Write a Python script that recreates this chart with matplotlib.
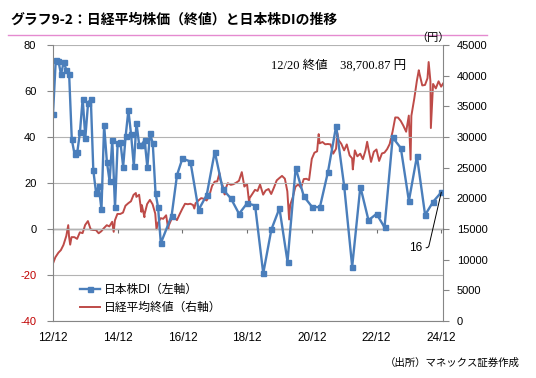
import numpy as np
import pandas as pd
import matplotlib
matplotlib.use("Agg")
import matplotlib.pyplot as plt
import matplotlib.dates as mdates
from matplotlib.lines import Line2D

plt.rcParams['font.family'] = ['Liberation Sans', 'Noto Sans CJK JP', 'DejaVu Sans']

# --- data -------------------------------------------------------------------
# 日本株DI: monthly Dec 2012 - Apr 2016, then Aug/Oct 2016, then quarterly
di_monthly = [50, 73.3, 73, 67.2, 72.6, 69.1, 67.4, 39, 32.5, 33.3, 42, 56.7,
              39.7, 54.8, 56.5, 25.5, 15.8, 18.7, 8.5, 45.2, 29.3, 20.7, 38.7,
              9.4, 37.5, 37.8, 27.1, 40.4, 51.6, 41.2, 27.4, 46.1, 36.5, 36.7,
              38.7, 26.8, 41.7, 37.2, 15.8, 9.4, -6.2]
di_mid_dates = ['2016-08-01', '2016-10-01']
di_mid = [5.8, 23.5]
di_quarterly = [30.7, 29.3, 8.3, 14.8, 33.6, 17.3, 13.3, 6.6, 11.2, 10.2, -19.3,
                -0.2, 9.0, -14.2, 26.6, 14.2, 9.7, 9.4, 24.9, 44.8, 18.5, -16.4,
                18.4, 3.8, 6.6, 0.7, 39.8, 35.2, 12.2, 31.7, 6.1, 11.9, 16.0]

di_dates = (list(pd.date_range('2012-12-01', periods=len(di_monthly), freq='MS'))
            + list(pd.to_datetime(di_mid_dates))
            + list(pd.date_range('2016-12-01', periods=len(di_quarterly), freq='3MS')))
di_values = di_monthly + di_mid + di_quarterly

# 日経平均終値 (month-end closes plus notable intra-month highs/lows)
nk_dates = [
    '2012-12-03', '2012-12-28', '2013-01-31', '2013-02-28', '2013-03-29', '2013-04-30',
    '2013-05-22', '2013-05-31', '2013-06-13', '2013-06-28', '2013-07-31', '2013-08-30',
    '2013-09-30', '2013-10-31', '2013-11-29', '2013-12-30', '2014-01-31', '2014-02-28',
    '2014-03-31', '2014-04-30', '2014-05-30', '2014-06-30', '2014-07-31', '2014-08-29',
    '2014-09-30', '2014-10-17', '2014-10-31', '2014-11-28', '2014-12-30', '2015-01-30',
    '2015-02-27', '2015-03-31', '2015-04-30', '2015-05-29', '2015-06-24', '2015-06-30',
    '2015-07-31', '2015-08-25', '2015-08-31', '2015-09-29', '2015-09-30', '2015-10-30',
    '2015-11-30', '2015-12-30', '2016-01-29', '2016-02-12', '2016-02-29', '2016-03-31',
    '2016-04-28', '2016-05-31', '2016-06-24', '2016-06-30', '2016-07-29', '2016-08-31',
    '2016-09-30', '2016-10-31', '2016-11-30', '2016-12-30', '2017-01-31', '2017-02-28',
    '2017-03-31', '2017-04-14', '2017-04-28', '2017-05-31', '2017-06-30', '2017-07-31',
    '2017-08-31', '2017-09-29', '2017-10-31', '2017-11-30', '2017-12-29', '2018-01-23',
    '2018-01-31', '2018-02-28', '2018-03-23', '2018-03-30', '2018-04-27', '2018-05-31',
    '2018-06-29', '2018-07-31', '2018-08-31', '2018-09-28', '2018-10-02', '2018-10-31',
    '2018-11-30', '2018-12-25', '2018-12-28', '2019-01-31', '2019-02-28', '2019-03-29',
    '2019-04-26', '2019-05-31', '2019-06-28', '2019-07-31', '2019-08-30', '2019-09-30',
    '2019-10-31', '2019-11-29', '2019-12-30', '2020-01-31', '2020-02-28', '2020-03-19',
    '2020-03-31', '2020-04-30', '2020-05-29', '2020-06-30', '2020-07-31', '2020-08-31',
    '2020-09-30', '2020-10-30', '2020-11-30', '2020-12-30', '2021-01-29', '2021-02-16',
    '2021-02-26', '2021-03-31', '2021-04-30', '2021-05-31', '2021-06-30', '2021-07-30',
    '2021-08-31', '2021-09-14', '2021-09-30', '2021-10-29', '2021-11-30', '2021-12-30',
    '2022-01-31', '2022-02-28', '2022-03-08', '2022-03-31', '2022-04-28', '2022-05-31',
    '2022-06-30', '2022-07-29', '2022-08-17', '2022-08-31', '2022-09-30', '2022-10-31',
    '2022-11-30', '2022-12-30', '2023-01-31', '2023-02-28', '2023-03-31', '2023-04-28',
    '2023-05-31', '2023-06-30', '2023-07-31', '2023-08-31', '2023-09-29', '2023-10-31',
    '2023-11-30', '2023-12-20', '2023-12-29', '2024-01-31', '2024-02-29', '2024-03-22',
    '2024-03-29', '2024-04-30', '2024-05-31', '2024-06-28', '2024-07-11', '2024-07-31',
    '2024-08-05', '2024-08-30', '2024-09-30', '2024-10-31', '2024-11-29', '2024-12-20']
nk_values = [
    9458, 10395, 11139, 11559, 12398, 13861,
    15627, 13775, 12445, 13677, 13668, 13389,
    14456, 14328, 15662, 16291, 14915, 14841,
    14828, 14304, 14632, 15162, 15621, 15425,
    16174, 14533, 16414, 17460, 17451, 17674,
    18798, 19207, 19520, 20563, 20868, 20236,
    20585, 17806, 18890, 16931, 17388, 19083,
    19747, 19034, 17518, 14953, 16027, 16759,
    16666, 17235, 14952, 15576, 16569, 16887,
    16450, 17425, 18308, 19114, 19041, 19119,
    18909, 18336, 19197, 19651, 20033, 19925,
    19646, 20356, 22012, 22725, 22765, 24124,
    23098, 22068, 20618, 21454, 22468, 22202,
    22305, 22554, 22865, 24120, 24271, 21920,
    22351, 19155, 20015, 20773, 21385, 21206,
    22259, 20601, 21276, 21522, 20704, 21756,
    22927, 23294, 23657, 23205, 21143, 16553,
    18917, 20194, 21878, 22288, 21710, 23140,
    23185, 22977, 26434, 27444, 27663, 30468,
    28966, 29179, 28813, 28860, 28792, 27284,
    28090, 30670, 29453, 28893, 27822, 28792,
    27002, 26527, 24718, 27821, 26848, 27280,
    26393, 27802, 29222, 28092, 25937, 27587,
    27969, 26095, 27327, 27446, 28041, 28856,
    30888, 33189, 33172, 32619, 31858, 30859,
    33487, 26300, 33464, 36287, 39166, 40888,
    40369, 38406, 38488, 39583, 42224, 39102,
    31458, 38648, 37920, 39081, 38208, 38701]
nk_dates = pd.to_datetime(nk_dates)

x_ticks = pd.to_datetime(['2012-12-01', '2014-12-01', '2016-12-01', '2018-12-01',
                          '2020-12-01', '2022-12-01', '2024-12-01'])
x_labels = ['12/12', '14/12', '16/12', '18/12', '20/12', '22/12', '24/12']
left_ticks = [-40, -20, 0, 20, 40, 60, 80]
right_ticks = list(range(0, 45001, 5000))

blue = '#4a7ebb'
red = '#be4b48'
axis_gray = '#868686'
grid_gray = '#b3b3b3'

# --- figure -----------------------------------------------------------------
fig = plt.figure(figsize=(5.36, 3.78), dpi=100)
ax = fig.add_axes([53 / 536, 1 - 321 / 378, 390 / 536, 276 / 378])
ax2 = ax.twinx()
ax.set_zorder(ax2.get_zorder() + 1)
ax.patch.set_visible(False)

ax2.plot(nk_dates, nk_values, color=red, lw=1.4, label='日経平均終値（右軸）')
ax.plot(di_dates, di_values, color=blue, lw=1.7, marker='s', ms=3.6,
        label='日本株DI（左軸）')

ax.set_xlim(pd.Timestamp('2012-12-01'), pd.Timestamp('2024-12-20'))
ax.set_ylim(-40, 80)
ax2.set_ylim(0, 45000)

# left axis
ax.set_yticks(left_ticks)
ax.set_yticklabels([str(v) for v in left_ticks])
for lab, v in zip(ax.get_yticklabels(), left_ticks):
    lab.set_color('#c00000' if v < 0 else 'black')
ax.tick_params(axis='y', direction='out', length=4, width=0.8, color=axis_gray,
               labelsize=8, pad=8)
ax.grid(axis='y', color=grid_gray, lw=0.8)
ax.set_axisbelow(True)

# right axis
ax2.set_yticks(right_ticks)
ax2.tick_params(axis='y', direction='out', length=4, width=0.8, color=axis_gray,
                labelsize=8, pad=6)

for s in ['top', 'right']:
    ax.spines[s].set_visible(False)
for s in ['top', 'left', 'bottom']:
    ax2.spines[s].set_visible(False)
ax.spines['left'].set_color(axis_gray)
ax2.spines['right'].set_color(axis_gray)
ax.spines['bottom'].set_color(axis_gray)

# x labels at the bottom line
ax.set_xticks(x_ticks)
ax.set_xticklabels(x_labels)
ax.tick_params(axis='x', length=0, labelsize=8.5, pad=8)

# zero line with its own tick marks
zero_frac = (0 - left_ticks[0]) / (left_ticks[-1] - left_ticks[0])
zax = ax.secondary_xaxis(zero_frac)
zax.set_xticks(mdates.date2num(x_ticks))
zax.tick_params(axis='x', direction='out', length=3, width=0.8, color='#707070',
                labelbottom=False)
zax.spines['bottom'].set_color('#707070')
zax.spines['bottom'].set_linewidth(1.0)

# legend
h1, l1 = ax.get_legend_handles_labels()
h2, l2 = ax2.get_legend_handles_labels()
ax.legend(h1 + h2, l1 + l2, loc='lower left', bbox_to_anchor=(0.07, 0.025),
          frameon=False, fontsize=8.5, handlelength=1.7, handletextpad=0.3,
          labelspacing=0.5, borderpad=0, borderaxespad=0)

# annotations
ax.text(0.56, 0.925, '12/20 終値　38,700.87 円', transform=ax.transAxes,
        fontsize=9, family=['Liberation Serif', 'Noto Sans CJK JP'],
        ha='left', va='center')
ax.annotate('16', xy=(di_dates[-1], di_values[-1]), xytext=(-14, -40),
            textcoords='offset points', fontsize=8.5, ha='right', va='center',
            arrowprops=dict(arrowstyle='-', color='black', lw=0.7,
                            shrinkA=1, shrinkB=0,
                            connectionstyle='angle,angleA=0,angleB=77,rad=2'))

# titles and notes
fig.text(10 / 536, 1 - 20 / 378, 'グラフ9-2：日経平均株価（終値）と日本株DIの推移',
         fontsize=10, fontweight='bold', family=['Noto Sans CJK JP'],
         ha='left', va='center')
fig.add_artist(Line2D([8 / 536, 487 / 536], [1 - 34.5 / 378, 1 - 34.5 / 378],
                      color='#e58ad0', lw=1.0))
fig.text(433 / 536, 1 - 38 / 378, '（円）', fontsize=8, ha='center', va='center',
         family=['Noto Sans CJK JP'])
fig.text(520 / 536, 1 - 363 / 378, '（出所）マネックス証券作成', fontsize=7.5,
         ha='right', va='center', family=['Noto Sans CJK JP'])

fig.savefig('out.png', dpi=100)
